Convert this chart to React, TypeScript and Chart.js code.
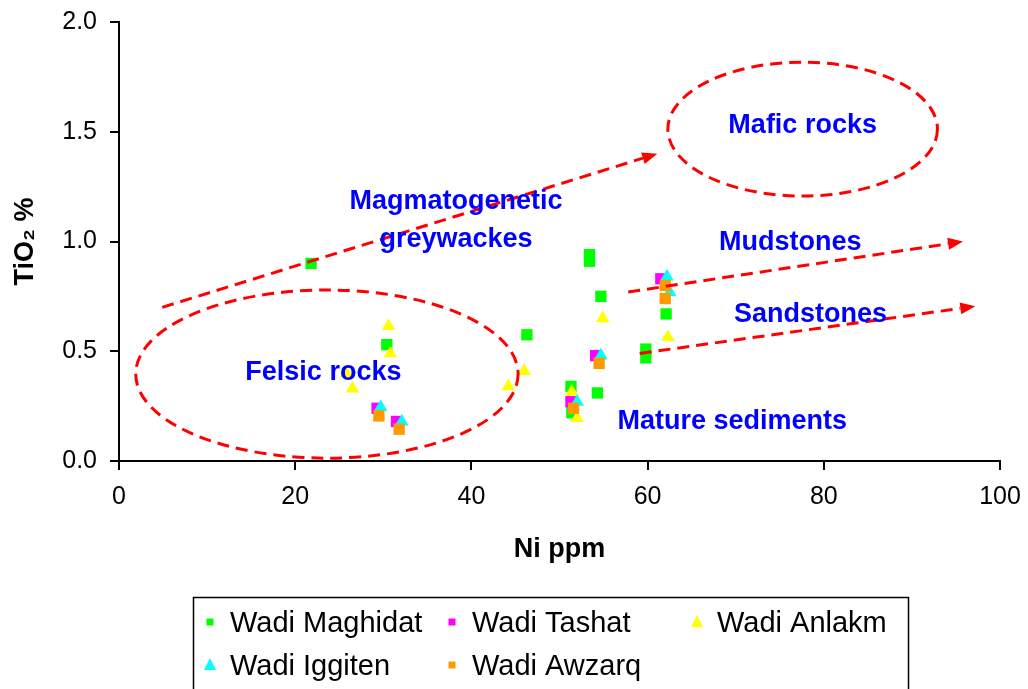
import React, { useEffect, useRef } from 'react';
import { Chart, registerables } from 'chart.js';

Chart.register(...registerables);

// ---- data (Ni ppm vs TiO2 %) ----
const seriesNames = ['Wadi Maghidat', 'Wadi Tashat', 'Wadi Anlakm', 'Wadi Iggiten', 'Wadi Awzarq'];

const maghidatNi = [21.8, 30.4, 46.3, 53.4, 53.4, 54.7, 51.3, 54.3, 51.4, 62.1, 59.8, 59.8];
const maghidatTiO2 = [0.9, 0.53, 0.575, 0.94, 0.91, 0.75, 0.34, 0.31, 0.22, 0.67, 0.51, 0.47];

const tashatNi = [29.3, 31.5, 54.1, 51.3, 61.5];
const tashatTiO2 = [0.24, 0.18, 0.48, 0.27, 0.83];

const anlakmNi = [30.6, 30.8, 26.5, 25.8, 44.2, 46.0, 51.4, 52.0, 54.9, 62.3];
const anlakmTiO2 = [0.615, 0.49, 0.33, 0.4, 0.34, 0.41, 0.315, 0.195, 0.65, 0.565];

const iggitenNi = [29.7, 32.1, 54.7, 52.0, 62.2, 62.5];
const iggitenTiO2 = [0.245, 0.18, 0.48, 0.27, 0.84, 0.77];

const awzarqNi = [29.5, 31.8, 54.5, 51.6, 62.0, 62.0];
const awzarqTiO2 = [0.205, 0.145, 0.445, 0.24, 0.8, 0.74];

const xTickValues = [0, 20, 40, 60, 80, 100];
const yTickValues = [0, 0.5, 1.0, 1.5, 2.0];

// ---- annotation overlays (data units) ----
const fieldLabels = ['Felsic rocks', 'Mafic rocks'];
const fieldCenterNi = [23.6, 77.6];
const fieldCenterTiO2 = [0.396, 1.512];
const fieldRadiusNi = [21.7, 15.3];
const fieldRadiusTiO2 = [0.383, 0.305];

const trendStartNi = [4.9, 57.8, 59.1];
const trendStartTiO2 = [0.7, 0.77, 0.49];
const trendEndNi = [61.1, 95.8, 97.2];
const trendEndTiO2 = [1.4, 1.0, 0.705];

const noteTexts = ['Mafic rocks', 'Magmatogenetic', 'greywackes', 'Mudstones', 'Sandstones', 'Felsic rocks', 'Mature sediments'];
const noteNi = [77.6, 38.25, 38.25, 76.2, 78.5, 23.2, 69.6];
const noteTiO2 = [1.526, 1.18, 1.007, 0.993, 0.665, 0.405, 0.182];

const FONT = '"Liberation Sans", Arial, Helvetica, sans-serif';

const toPoints = (xs: number[], ys: number[]) => xs.map((v, i) => ({ x: v, y: ys[i] }));

const seriesStyles = [
  { color: '#00FF00', shape: 'rect', r: 8 },
  { color: '#FF00FF', shape: 'rect', r: 8 },
  { color: '#FFFF00', shape: 'triangle', r: 7.8 },
  { color: '#00FFFF', shape: 'triangle', r: 7.8 },
  { color: '#FF9900', shape: 'rect', r: 8 },
];

const zeroScalePadding = (s: any) => {
  s.paddingTop = 0;
  s.paddingBottom = 0;
  s.paddingLeft = 0;
  s.paddingRight = 0;
};

const annotationPlugin = {
  id: 'geoAnnotations',
  afterDatasetsDraw(chart: any) {
    const { ctx } = chart;
    const xs = chart.scales.x;
    const ys = chart.scales.y;
    ctx.save();
    ctx.strokeStyle = '#FF0000';
    ctx.fillStyle = '#FF0000';
    ctx.lineWidth = 3;
    ctx.setLineDash([12, 7]);
    fieldLabels.forEach((_, i) => {
      const cx = xs.getPixelForValue(fieldCenterNi[i]);
      const cy = ys.getPixelForValue(fieldCenterTiO2[i]);
      const rx = Math.abs(xs.getPixelForValue(fieldCenterNi[i] + fieldRadiusNi[i]) - cx);
      const ry = Math.abs(ys.getPixelForValue(fieldCenterTiO2[i] + fieldRadiusTiO2[i]) - cy);
      ctx.beginPath();
      ctx.ellipse(cx, cy, rx, ry, 0, 0, Math.PI * 2);
      ctx.stroke();
    });
    trendStartNi.forEach((_, i) => {
      const x0 = xs.getPixelForValue(trendStartNi[i]);
      const y0 = ys.getPixelForValue(trendStartTiO2[i]);
      const x1 = xs.getPixelForValue(trendEndNi[i]);
      const y1 = ys.getPixelForValue(trendEndTiO2[i]);
      const ang = Math.atan2(y1 - y0, x1 - x0);
      const headLen = 15;
      const headHalf = 6;
      const bx = x1 - Math.cos(ang) * headLen;
      const by = y1 - Math.sin(ang) * headLen;
      ctx.setLineDash([12, 7]);
      ctx.beginPath();
      ctx.moveTo(x0, y0);
      ctx.lineTo(bx, by);
      ctx.stroke();
      ctx.setLineDash([]);
      ctx.beginPath();
      ctx.moveTo(x1, y1);
      ctx.lineTo(bx + Math.sin(ang) * headHalf, by - Math.cos(ang) * headHalf);
      ctx.lineTo(bx - Math.sin(ang) * headHalf, by + Math.cos(ang) * headHalf);
      ctx.closePath();
      ctx.fill();
    });
    ctx.setLineDash([]);
    ctx.fillStyle = '#0000FF';
    ctx.font = `bold 27px ${FONT}`;
    ctx.textAlign = 'center';
    ctx.textBaseline = 'middle';
    noteTexts.forEach((t, i) => {
      ctx.fillText(t, xs.getPixelForValue(noteNi[i]), ys.getPixelForValue(noteTiO2[i]));
    });
    ctx.restore();
  },
  afterDraw(chart: any) {
    const { ctx } = chart;
    ctx.save();
    ctx.strokeStyle = '#000000';
    ctx.lineWidth = 1.5;
    ctx.strokeRect(193.5, 597.5, 715, 120);
    const colX = [210, 452, 697];
    const rowY = [622, 665];
    const textOffset = 20;
    ctx.font = `29px ${FONT}`;
    ctx.textAlign = 'left';
    ctx.textBaseline = 'middle';
    seriesNames.forEach((name, i) => {
      const col = i < 3 ? i : i - 3;
      const row = i < 3 ? 0 : 1;
      const mx = colX[col];
      const my = rowY[row];
      const st = seriesStyles[i];
      ctx.fillStyle = st.color;
      ctx.beginPath();
      if (st.shape === 'rect') {
        ctx.rect(mx - 3.5, my - 3.5, 7, 7);
      } else {
        ctx.moveTo(mx, my - 7);
        ctx.lineTo(mx + 6, my + 5);
        ctx.lineTo(mx - 6, my + 5);
        ctx.closePath();
      }
      ctx.fill();
      ctx.fillStyle = '#000000';
      ctx.fillText(name, mx + textOffset, my + 2);
    });
    ctx.restore();
  },
};

export default function App() {
  const canvasRef = useRef<HTMLCanvasElement | null>(null);

  useEffect(() => {
    const canvas = canvasRef.current;
    if (!canvas) return;
    const seriesData = [
      toPoints(maghidatNi, maghidatTiO2),
      toPoints(tashatNi, tashatTiO2),
      toPoints(anlakmNi, anlakmTiO2),
      toPoints(iggitenNi, iggitenTiO2),
      toPoints(awzarqNi, awzarqTiO2),
    ];
    const chart = new Chart(canvas, {
      type: 'scatter',
      data: {
        datasets: seriesNames.map((name, i) => ({
          label: name,
          data: seriesData[i],
          pointStyle: seriesStyles[i].shape as any,
          pointRadius: seriesStyles[i].r,
          pointBackgroundColor: seriesStyles[i].color,
          pointBorderColor: seriesStyles[i].color,
          pointBorderWidth: 0,
          order: seriesNames.length - i,
        })),
      },
      options: {
        responsive: false,
        animation: false,
        devicePixelRatio: 1,
        events: [],
        layout: { autoPadding: false, padding: { left: 0, right: 28, top: 22, bottom: 0 } },
        plugins: { legend: { display: false }, tooltip: { enabled: false } },
        scales: {
          x: {
            type: 'linear',
            min: 0,
            max: 100,
            afterBuildTicks: (s: any) => {
              s.ticks = xTickValues.map((v) => ({ value: v }));
            },
            ticks: {
              color: '#000',
              font: { family: FONT, size: 25 },
              padding: 12,
              maxRotation: 0,
              autoSkip: false,
              callback: (v: any) => String(v),
            },
            grid: { display: true, drawOnChartArea: false, drawTicks: true, tickLength: 9, color: '#000', lineWidth: 2 },
            border: { display: true, color: '#000', width: 2 },
            title: {
              display: true,
              text: 'Ni ppm',
              color: '#000',
              font: { family: FONT, size: 27, weight: 'bold' },
              padding: { top: 0, bottom: 123 },
            },
            afterFit: (s: any) => {
              s.height = 228;
              zeroScalePadding(s);
            },
          },
          y: {
            type: 'linear',
            min: 0,
            max: 2,
            afterBuildTicks: (s: any) => {
              s.ticks = yTickValues.map((v) => ({ value: v }));
            },
            ticks: {
              color: '#000',
              font: { family: FONT, size: 25 },
              padding: 13,
              callback: (v: any) => Number(v).toFixed(1),
            },
            grid: { display: true, drawOnChartArea: false, drawTicks: true, tickLength: 9, color: '#000', lineWidth: 2 },
            border: { display: true, color: '#000', width: 2 },
            title: {
              display: true,
              text: 'TiO₂ %',
              color: '#000',
              font: { family: FONT, size: 27, weight: 'bold' },
              padding: { top: 9, bottom: 0 },
            },
            afterFit: (s: any) => {
              s.width = 119;
              zeroScalePadding(s);
            },
          },
        },
      },
      plugins: [annotationPlugin],
    });
    return () => chart.destroy();
  }, []);

  return (
    <div style={{ position: 'fixed', left: 0, top: 0, width: 1028, height: 689, background: '#fff' }}>
      <canvas ref={canvasRef} width={1028} height={689} style={{ display: 'block' }} />
    </div>
  );
}
